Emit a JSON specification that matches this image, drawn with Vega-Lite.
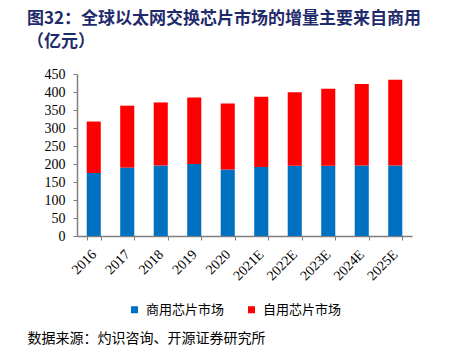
{
  "$schema": "https://vega.github.io/schema/vega-lite/v6.json",
  "autosize": "none",
  "width": 335,
  "height": 162,
  "padding": {"left": 77, "top": 74, "right": 41, "bottom": 116},
  "background": "white",
  "title": {
    "text": ["图32：全球以太网交换芯片市场的增量主要来自商用", "（亿元）"],
    "anchor": "start",
    "frame": "group",
    "dx": -50,
    "dy": 0,
    "font": "Noto Sans CJK SC",
    "fontSize": 17,
    "fontWeight": "bold",
    "color": "#1F2A6B",
    "lineHeight": 23,
    "offset": 16
  },
  "data": {
    "values": [
      {"year": "2016", "type": "商用芯片市场", "value": 175},
      {"year": "2016", "type": "自用芯片市场", "value": 143},
      {"year": "2017", "type": "商用芯片市场", "value": 190},
      {"year": "2017", "type": "自用芯片市场", "value": 172},
      {"year": "2018", "type": "商用芯片市场", "value": 196},
      {"year": "2018", "type": "自用芯片市场", "value": 175},
      {"year": "2019", "type": "商用芯片市场", "value": 200},
      {"year": "2019", "type": "自用芯片市场", "value": 185},
      {"year": "2020", "type": "商用芯片市场", "value": 185},
      {"year": "2020", "type": "自用芯片市场", "value": 183},
      {"year": "2021E", "type": "商用芯片市场", "value": 192},
      {"year": "2021E", "type": "自用芯片市场", "value": 195},
      {"year": "2022E", "type": "商用芯片市场", "value": 195},
      {"year": "2022E", "type": "自用芯片市场", "value": 204},
      {"year": "2023E", "type": "商用芯片市场", "value": 195},
      {"year": "2023E", "type": "自用芯片市场", "value": 214},
      {"year": "2024E", "type": "商用芯片市场", "value": 196},
      {"year": "2024E", "type": "自用芯片市场", "value": 226},
      {"year": "2025E", "type": "商用芯片市场", "value": 196},
      {"year": "2025E", "type": "自用芯片市场", "value": 238}
    ]
  },
  "mark": {"type": "bar"},
  "encoding": {
    "x": {
      "field": "year",
      "type": "nominal",
      "sort": null,
      "scale": {"paddingInner": 0.58, "paddingOuter": 0.29},
      "axis": {
        "title": "数据来源：灼识咨询、开源证券研究所",
        "titleFont": "Noto Sans CJK SC",
        "titleFontSize": 14,
        "titleFontWeight": "normal",
        "titleColor": "#000000",
        "titleAnchor": "start",
        "titleAlign": "left",
        "titleBaseline": "middle",
        "titleX": -50,
        "titleY": 102,
        "labelAngle": -45,
        "labelAlign": "right",
        "labelBaseline": "middle",
        "labelFont": "Liberation Serif",
        "labelFontSize": 14,
        "labelColor": "#000000",
        "labelPadding": 12,
        "tickBand": "extent",
        "tickSize": 4,
        "tickColor": "#7f7f7f",
        "domainColor": "#7f7f7f",
        "domainWidth": 1.5
      }
    },
    "y": {
      "field": "value",
      "type": "quantitative",
      "stack": "zero",
      "scale": {"domain": [0, 450], "nice": false},
      "axis": {
        "title": null,
        "values": [0, 50, 100, 150, 200, 250, 300, 350, 400, 450],
        "grid": false,
        "labelFont": "Liberation Serif",
        "labelFontSize": 14,
        "labelColor": "#000000",
        "labelPadding": 8,
        "tickSize": 4,
        "tickColor": "#7f7f7f",
        "domainColor": "#7f7f7f",
        "domainWidth": 1.5
      }
    },
    "color": {
      "field": "type",
      "type": "nominal",
      "scale": {"domain": ["商用芯片市场", "自用芯片市场"], "range": ["#0070C0", "#FF0000"]},
      "legend": {
        "title": null,
        "orient": "none",
        "direction": "horizontal",
        "legendX": 51,
        "legendY": 229,
        "symbolType": "square",
        "symbolSize": 49,
        "symbolStrokeWidth": 0,
        "labelFont": "Noto Sans CJK SC",
        "labelFontSize": 13,
        "labelColor": "#000000",
        "labelOffset": 5,
        "columnPadding": 20
      }
    },
    "order": {"field": "type", "sort": "ascending"}
  },
  "config": {"view": {"stroke": null}}
}
